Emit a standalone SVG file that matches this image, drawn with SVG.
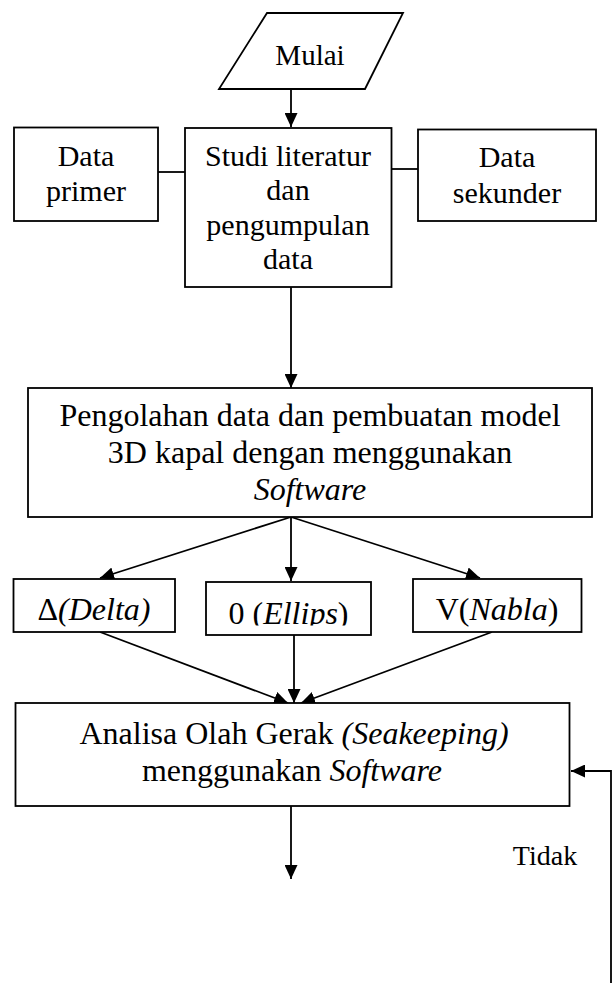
<svg xmlns="http://www.w3.org/2000/svg" width="612" height="983" viewBox="0 0 612 983">
<style>
.box{fill:#fff;stroke:#000;stroke-width:1.8}
.ln{fill:none;stroke:#000;stroke-width:1.8}
.t{font-family:"Liberation Serif","Times New Roman",serif;fill:#000;text-anchor:middle}
.i{font-style:italic}
</style>
<defs>
<marker id="ah" markerUnits="userSpaceOnUse" markerWidth="15" markerHeight="13" refX="14" refY="6.5" orient="auto">
<path d="M0,0 L14,6.5 L0,13 z" fill="#000"/>
</marker>
<clipPath id="clipE"><rect x="206" y="582" width="165" height="43.5"/></clipPath>
</defs>
<rect width="612" height="983" fill="#fff"/>
<g id="connectors">
<line class="ln" x1="291" y1="89" x2="291" y2="127" marker-end="url(#ah)"/>
<line class="ln" x1="158" y1="172" x2="185" y2="172"/>
<line class="ln" x1="391.5" y1="169" x2="418" y2="169"/>
<line class="ln" x1="291" y1="287" x2="291" y2="388" marker-end="url(#ah)"/>
<line class="ln" x1="291" y1="517" x2="291" y2="581" marker-end="url(#ah)"/>
<line class="ln" x1="291" y1="517" x2="100" y2="578" marker-end="url(#ah)"/>
<line class="ln" x1="291" y1="517" x2="480" y2="578" marker-end="url(#ah)"/>
<line class="ln" x1="100" y1="632" x2="288" y2="703" marker-end="url(#ah)"/>
<line class="ln" x1="294" y1="635" x2="294" y2="703" marker-end="url(#ah)"/>
<line class="ln" x1="492" y1="632" x2="301" y2="703" marker-end="url(#ah)"/>
<line class="ln" x1="291" y1="806" x2="291" y2="879" marker-end="url(#ah)"/>
<polyline class="ln" points="611,983 611,771 571,771" marker-end="url(#ah)"/>
</g>
<g id="mulai">
<polygon class="box" points="267,13 403,13 365,89 219,89"/>
<text class="t" x="310" y="65" font-size="29">Mulai</text>
</g>
<g id="data-primer">
<rect class="box" x="14" y="127.5" width="144" height="93.5"/>
<text class="t" x="86" y="166" font-size="30">Data</text>
<text class="t" x="86" y="201" font-size="30">primer</text>
</g>
<g id="studi">
<rect class="box" x="185" y="128" width="206.5" height="159"/>
<text class="t" x="288" y="166" font-size="30">Studi literatur</text>
<text class="t" x="288" y="200" font-size="30">dan</text>
<text class="t" x="288" y="234.5" font-size="30">pengumpulan</text>
<text class="t" x="288" y="269" font-size="30">data</text>
</g>
<g id="data-sekunder">
<rect class="box" x="418" y="129.5" width="178" height="91.5"/>
<text class="t" x="507" y="167" font-size="30">Data</text>
<text class="t" x="507" y="203" font-size="30">sekunder</text>
</g>
<g id="pengolahan">
<rect class="box" x="28" y="388" width="564" height="129"/>
<text class="t" x="310" y="426" font-size="32">Pengolahan data dan pembuatan model</text>
<text class="t" x="310" y="463" font-size="32">3D kapal dengan menggunakan</text>
<text class="t i" x="310" y="500" font-size="32">Software</text>
</g>
<g id="delta">
<rect class="box" x="13.5" y="579" width="161.5" height="53"/>
<text class="t" x="94" y="620" font-size="32">Δ<tspan class="i">(Delta)</tspan></text>
</g>
<g id="ellips">
<rect class="box" x="206" y="582" width="165" height="53"/>
<text class="t" x="288.5" y="624" font-size="32" clip-path="url(#clipE)">0 (<tspan class="i">Ellips</tspan>)</text>
</g>
<g id="nabla">
<rect class="box" x="413" y="579" width="168.5" height="53"/>
<text class="t" x="497" y="620" font-size="32">V(<tspan class="i">Nabla</tspan>)</text>
</g>
<g id="analisa">
<rect class="box" x="15.5" y="703" width="554" height="103"/>
<text class="t" x="294" y="744" font-size="32">Analisa Olah Gerak <tspan class="i">(Seakeeping)</tspan></text>
<text class="t" x="292" y="781" font-size="32">menggunakan <tspan class="i">Software</tspan></text>
</g>
<g id="tidak">
<text class="t" x="545" y="865" font-size="28">Tidak</text>
</g>
</svg>
